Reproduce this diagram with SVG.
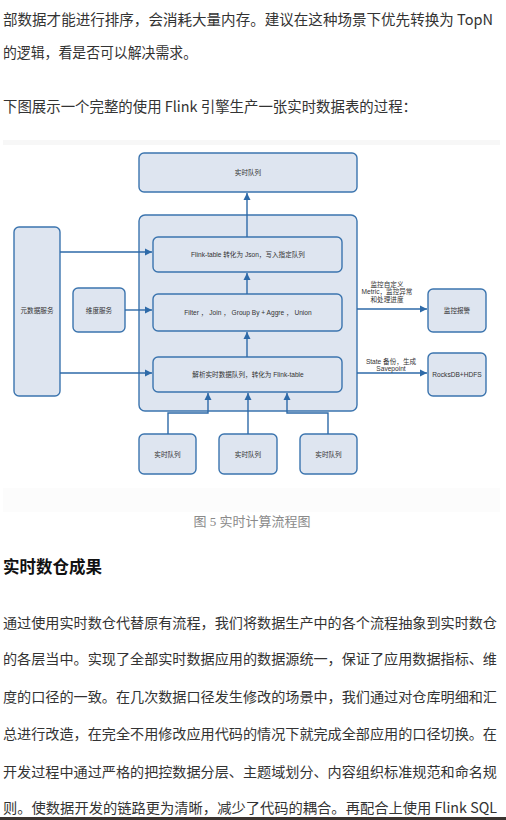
<svg xmlns="http://www.w3.org/2000/svg" width="506" height="820" viewBox="0 0 506 820">
<defs>
<marker id="ah" markerWidth="8" markerHeight="8" refX="7" refY="4" orient="auto" markerUnits="userSpaceOnUse">
<path d="M0,0.5 L7,4 L0,7.5 Z" fill="#2e6aa8"/>
</marker>
<style>
.body{font-family:"Noto Sans CJK SC","Noto Sans",sans-serif;fill:#333;font-size:14.6px}
.para{font-family:"Noto Sans CJK SC","Noto Sans",sans-serif;fill:#333;font-size:14.2px}
.head{font-family:"Noto Sans CJK SC","Noto Sans",sans-serif;fill:#111;font-size:16.5px;font-weight:bold}
.cap{font-family:"Liberation Serif","Noto Sans CJK SC",serif;fill:#8a8a8a;font-size:13px}
.box{fill:#dee5f0;stroke:#3b74ae;stroke-width:1.4}
.lbl{font-family:"Liberation Sans","Noto Sans CJK SC",sans-serif;font-size:6.6px;fill:#333;text-anchor:middle}
.edge{fill:none;stroke:#2e6aa8;stroke-width:1.4}
</style>
</defs>
<rect width="506" height="820" fill="#ffffff"/>
<rect x="3" y="140" width="497" height="5" fill="#f7f7f7"/>
<rect x="3" y="488" width="497" height="24" fill="#fcfcfc"/>

<text class="body" x="3" y="25" textLength="490" lengthAdjust="spacingAndGlyphs">部数据才能进行排序，会消耗大量内存。建议在这种场景下优先转换为 TopN</text>
<text class="body" x="3" y="58" textLength="194" lengthAdjust="spacingAndGlyphs">的逻辑，看是否可以解决需求。</text>
<text class="body" x="3" y="112" textLength="414" lengthAdjust="spacingAndGlyphs">下图展示一个完整的使用 Flink 引擎生产一张实时数据表的过程：</text>

<g id="queue-top"><rect class="box" x="139" y="153" width="218" height="39" rx="5"/><text class="lbl" x="248" y="174.5">实时队列</text></g>
<g id="container"><rect class="box" x="139" y="215" width="218" height="196" rx="6"/></g>
<g id="to-json"><rect class="box" x="153" y="237" width="189" height="35" rx="5"/><text class="lbl" x="248" y="256.5">Flink-table 转化为 Json，写入指定队列</text></g>
<g id="filter"><rect class="box" x="153" y="294" width="189" height="37" rx="5"/><text class="lbl" x="248" y="314.5">Filter ， Join ， Group By + Aggre ， Union</text></g>
<g id="parse"><rect class="box" x="153" y="357" width="189" height="35" rx="5"/><text class="lbl" x="248" y="376.5">解析实时数据队列，转化为 Flink-table</text></g>
<g id="meta"><rect class="box" x="14" y="227" width="46" height="169" rx="5"/><text class="lbl" x="37" y="312.5">元数据服务</text></g>
<g id="dim"><rect class="box" x="73" y="288" width="52" height="44" rx="5"/><text class="lbl" x="99" y="312.5">维度服务</text></g>
<g id="alarm"><rect class="box" x="428" y="289" width="58" height="43" rx="5"/><text class="lbl" x="457" y="312.5">监控报警</text></g>
<g id="rocks"><rect class="box" x="428" y="353" width="58" height="43" rx="5"/><text class="lbl" x="457" y="376.5">RocksDB+HDFS</text></g>
<g id="q1"><rect class="box" x="139" y="434" width="57" height="40" rx="5"/><text class="lbl" x="167.5" y="456.5">实时队列</text></g>
<g id="q2"><rect class="box" x="219" y="434" width="58" height="40" rx="5"/><text class="lbl" x="248" y="456.5">实时队列</text></g>
<g id="q3"><rect class="box" x="300" y="434" width="57" height="40" rx="5"/><text class="lbl" x="328.5" y="456.5">实时队列</text></g>

<g id="connectors">
<path class="edge" d="M247,237 V193" marker-end="url(#ah)"/>
<path class="edge" d="M247,294 V273" marker-end="url(#ah)"/>
<path class="edge" d="M247,357 V332" marker-end="url(#ah)"/>
<path class="edge" d="M60,252 H152" marker-end="url(#ah)"/>
<path class="edge" d="M125,310 H152" marker-end="url(#ah)"/>
<path class="edge" d="M60,373 H152" marker-end="url(#ah)"/>
<path class="edge" d="M357,309 H427" marker-end="url(#ah)"/>
<path class="edge" d="M357,373 H427" marker-end="url(#ah)"/>
<path class="edge" d="M168,434 V413 H208 V393" marker-end="url(#ah)"/>
<path class="edge" d="M248,434 V393" marker-end="url(#ah)"/>
<path class="edge" d="M328,434 V413 H287 V393" marker-end="url(#ah)"/>
<text class="lbl" x="387" y="286.5">监控自定义</text>
<text class="lbl" x="387" y="294">Metric，监控异常</text>
<text class="lbl" x="387" y="301.5">和处理进度</text>
<text class="lbl" x="391" y="363.5">State 备份，生成</text>
<text class="lbl" x="391" y="371">Savepoint</text>
</g>

<text class="cap" x="252" y="526" text-anchor="middle">图 5  实时计算流程图</text>
<text class="head" x="3" y="573">实时数仓成果</text>
<text class="para" x="3" y="628" textLength="494" lengthAdjust="spacingAndGlyphs">通过使用实时数仓代替原有流程，我们将数据生产中的各个流程抽象到实时数仓</text>
<text class="para" x="3" y="664" textLength="494" lengthAdjust="spacingAndGlyphs">的各层当中。实现了全部实时数据应用的数据源统一，保证了应用数据指标、维</text>
<text class="para" x="3" y="702" textLength="494" lengthAdjust="spacingAndGlyphs">度的口径的一致。在几次数据口径发生修改的场景中，我们通过对仓库明细和汇</text>
<text class="para" x="3" y="739" textLength="494" lengthAdjust="spacingAndGlyphs">总进行改造，在完全不用修改应用代码的情况下就完成全部应用的口径切换。在</text>
<text class="para" x="3" y="777" textLength="494" lengthAdjust="spacingAndGlyphs">开发过程中通过严格的把控数据分层、主题域划分、内容组织标准规范和命名规</text>
<text class="para" x="3" y="813" textLength="494" lengthAdjust="spacingAndGlyphs">则。使数据开发的链路更为清晰，减少了代码的耦合。再配合上使用 Flink SQL</text>
<rect x="0" y="817" width="506" height="3" fill="#3a3430"/>
</svg>
